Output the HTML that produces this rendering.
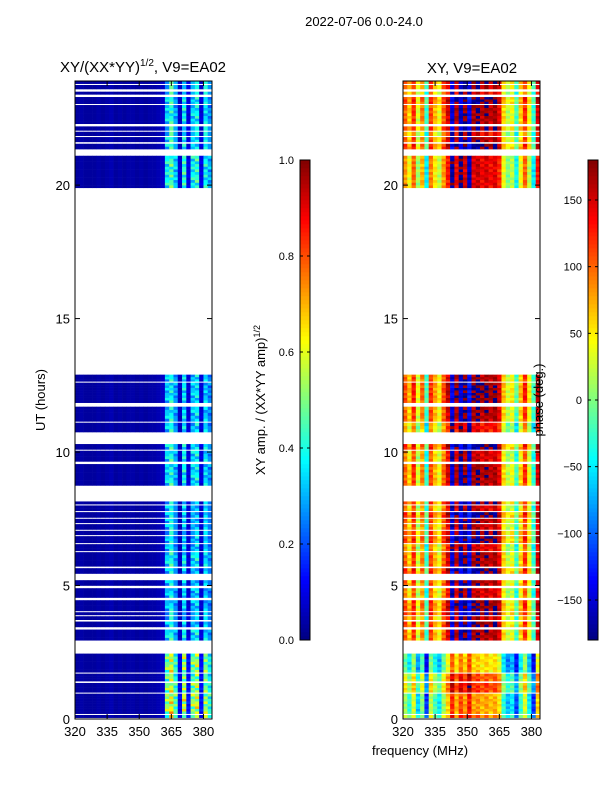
<!DOCTYPE html>
<html><head><meta charset="utf-8"><style>
body{margin:0;background:#fff;font-family:"Liberation Sans",sans-serif}
svg text{font-family:"Liberation Sans",sans-serif;fill:#000}
</style></head><body>
<svg id="c" width="600" height="800" xmlns="http://www.w3.org/2000/svg">
<rect width="600" height="800" fill="#fff"/>
<text x="364" y="26" font-size="13" text-anchor="middle">2022-07-06 0.0-24.0</text>
<text x="143" y="72" font-size="15" text-anchor="middle">XY/(XX*YY)<tspan font-size="10" dy="-6">1/2</tspan><tspan dy="6">, V9=EA02</tspan></text>
<text x="472" y="73" font-size="15" text-anchor="middle">XY, V9=EA02</text>
<text x="45" y="400" font-size="13" text-anchor="middle" transform="rotate(-90 45 400)">UT (hours)</text>
<text x="420" y="755" font-size="13" text-anchor="middle">frequency (MHz)</text>
<text x="265" y="400" font-size="13" text-anchor="middle" transform="rotate(-90 265 400)">XY amp. / (XX*YY amp)<tspan font-size="9" dy="-5">1/2</tspan></text>
<g id="g"></g>
<text x="543" y="400" font-size="13" text-anchor="middle" transform="rotate(-90 543 400)">phase (deg.)</text>
</svg>
<script>
const bands=[[0.05,0.15],[0.2,0.95],[1.0,1.35],[1.42,1.7],[1.75,2.45],[2.95,3.35],[3.45,3.65],[3.72,3.85],[3.9,4.0],[4.05,4.45],[4.55,4.9],[5.0,5.2],[5.45,5.65],[5.72,6.25],[6.3,6.55],[6.6,6.85],[6.9,7.05],[7.1,7.3],[7.35,7.5],[7.55,7.75],[7.8,8.0],[8.05,8.15],[8.75,9.55],[9.65,10.05],[10.1,10.3],[10.75,11.1],[11.15,11.7],[11.85,12.6],[12.65,12.9],[19.9,21.1],[21.35,21.55],[21.62,21.8],[21.85,22.0],[22.05,22.2],[22.3,23.0],[23.05,23.3],[23.4,23.5],[23.6,23.75],[23.8,23.9]];
const bandAmp=[1.3,1.4,1.3,1.2,1.3,0.9,0.8,0.8,0.8,0.8,0.8,0.8,0.8,0.9,0.8,0.8,0.8,0.8,0.8,0.8,0.8,0.8,0.9,0.9,0.9,0.85,0.85,0.85,0.85,1.0,0.9,0.9,0.9,0.9,0.9,0.9,0.9,0.9,0.9];
const bandPhase=[-70,-90,-50,-60,-110,0,10,-10,20,10,-15,0,20,0,-20,15,10,-10,0,20,-15,10,0,-15,20,-30,0,10,0,-20,15,0,-25,10,0,15,-20,0,10];
const chanAmp=[0.03,0.04,0.03,0.03,0.03,0.04,0.03,0.04,0.05,0.03,0.04,0.03,0.04,0.04,0.03,0.04,0.03,0.04,0.04,0.05,0.07,0.38,0.45,0.33,0.08,0.42,0.10,0.38,0.42,0.10,0.38,0.30];
const chanPhase=[100,60,120,30,90,-30,110,70,40,100,150,-150,160,-160,170,-140,165,175,160,170,155,165,140,60,20,40,-20,60,120,40,-30,150];
const rowVar=[1,0.8,1.15,0.9,1.05,0.75,1.2,1.0];
const rowPh=[0,12,-10,8,-15,5,10,-6];
const ampTicks=[0,0.2,0.4,0.6,0.8,1.0];
const phTicks=[-150,-100,-50,0,50,100,150];
const yTicks=[0,5,10,15,20];
const xTicks=[320,335,350,365,380];
const NS="http://www.w3.org/2000/svg";
const g=document.getElementById('g');
const T=719,B=81;
const yS=u=>T-(u/23.9)*(T-B);
const xL=f=>75+(f-320)*(137/64);
const xR=f=>403+(f-320)*(137/64);
function jet(v){v=Math.max(0,Math.min(1,v));const r=Math.min(4*v-1.5,-4*v+4.5),gg=Math.min(4*v-0.5,-4*v+3.5),b=Math.min(4*v+0.5,-4*v+2.5);const c=x=>Math.round(255*Math.max(0,Math.min(1,x)));return `rgb(${c(r)},${c(gg)},${c(b)})`;}
function el(t,a){const e=document.createElementNS(NS,t);for(const k in a)e.setAttribute(k,a[k]);g.appendChild(e);return e;}
const wrap=p=>((p+180)%360+360)%360-180;
bands.forEach((bd,bi)=>{
  const n=Math.max(1,Math.round((bd[1]-bd[0])/0.1));
  for(let r=0;r<n;r++){
    const u0=bd[0]+(bd[1]-bd[0])*r/n,u1=bd[0]+(bd[1]-bd[0])*(r+1)/n;
    const y0=yS(u1),h=yS(u0)-y0+0.3;
    chanAmp.forEach((a,ci)=>{
      const f=320+ci*2;
      const v=ci>20?a*bandAmp[bi]*rowVar[(r+ci)%8]:a;
      const c1=el('rect',{x:xL(f),y:y0,width:137/32+0.3,height:h,fill:jet(v)});
      
      
      const p=wrap(chanPhase[ci]+bandPhase[bi]+rowPh[(r+ci)%8]);
      const c2=el('rect',{x:xR(f),y:y0,width:137/32+0.3,height:h,fill:jet((p+180)/360)});
      
      
    });
  }
});
[[75,'left'],[403,'right']].forEach(([x0,nm])=>{
  const fr=el('rect',{x:x0,y:B,width:137,height:T-B,fill:'none',stroke:'#000','stroke-width':1});
  
  
  yTicks.forEach(t=>{const y=yS(t);
    el('line',{x1:x0,x2:x0+5,y1:y,y2:y,stroke:'#000'});el('line',{x1:x0+137,x2:x0+132,y1:y,y2:y,stroke:'#000'});
    const tx=el('text',{x:x0-5,y:y+5,'font-size':13,'text-anchor':'end'});tx.textContent=t;
    
    });
  xTicks.forEach(t=>{const x=x0+(t-320)*(137/64);
    el('line',{x1:x,x2:x,y1:T,y2:T-5,stroke:'#000'});el('line',{x1:x,x2:x,y1:B,y2:B+5,stroke:'#000'});
    const tx=el('text',{x:x,y:T+17,'font-size':13,'text-anchor':'middle'});tx.textContent=t;
    
    });
});
function cbar(x0,ticks,lo,hi,nm,fmt){
  for(let i=0;i<120;i++){const y=640-(i+1)*4;el('rect',{x:x0,y:y,width:10,height:4.3,fill:jet((i+0.5)/120)});}
  const fr=el('rect',{x:x0,y:160,width:10,height:480,fill:'none',stroke:'#000'});
  
  
  ticks.forEach(t=>{const y=640-(t-lo)/(hi-lo)*480;
    el('line',{x1:x0,x2:x0+3,y1:y,y2:y,stroke:'#000'});el('line',{x1:x0+10,x2:x0+7,y1:y,y2:y,stroke:'#000'});
    const tx=el('text',{x:x0-6,y:y+4,'font-size':11,'text-anchor':'end'});tx.textContent=fmt(t);
    
    
  });
}
cbar(300,ampTicks,0,1,'amp-colorbar',t=>t.toFixed(1));
cbar(588,phTicks,-180,180,'phase-colorbar',t=>t<0?'\u2212'+(-t):String(t));
</script>
</body></html>
